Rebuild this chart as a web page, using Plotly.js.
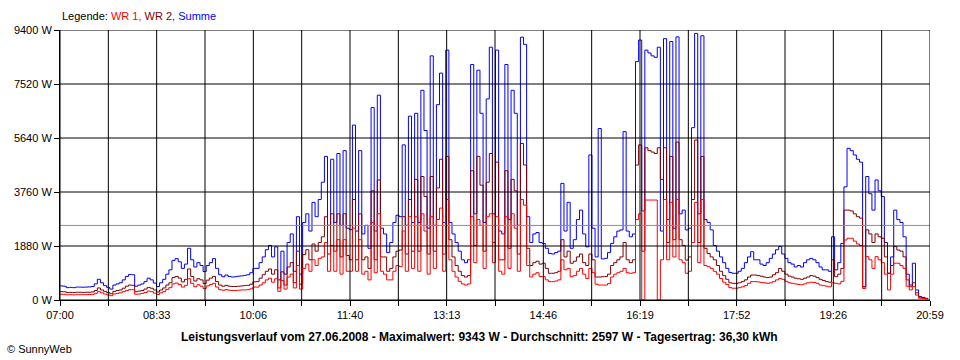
<!DOCTYPE html>
<html>
<head>
<meta charset="utf-8">
<script src="https://cdn.plot.ly/plotly-3.0.1.min.js"></script>
<style>html,body{margin:0;padding:0;background:#fff;}#chart{width:960px;height:360px;}</style>
</head>
<body>
<div id="chart"></div>
<script>
// Sampling: minutes after 07:00, one reading every 3 minutes
const startMinute = 0;
const stepMinutes = 3;
const endMinute = 839; // 20:59

const summe = [
490,480,430,440,430,450,450,445,450,455,
470,560,720,600,500,440,380,520,560,600,
700,820,890,880,480,520,560,640,760,700,
590,470,600,720,900,1050,1380,1440,1330,1100,
1250,1800,1400,1150,1300,1200,990,1200,1300,1440,
1100,880,810,870,820,800,810,830,840,860,
880,950,1100,1100,1300,1500,1750,1900,1500,1850,
700,1700,900,2000,2300,1000,2900,900,2700,3000,
2400,3400,2900,3500,4100,5000,2600,4900,2700,5100,
2600,5200,2500,2450,6090,2400,5200,2300,2600,1800,
6700,2400,7130,2500,2300,1650,2000,2700,2950,2900,
5400,2600,6400,2700,6500,2700,7300,5900,2500,8500,
2600,6800,7900,2700,8700,2700,2300,2000,1700,1400,
1300,1400,8200,3000,8000,6500,2700,7000,8800,3000,
8700,2400,2300,8200,2800,7300,6500,2600,9150,8900,
2900,2000,2300,2350,2000,1970,1800,1620,1600,1650,
1700,4060,2400,3400,1800,2100,2800,3130,2300,1850,
5050,2500,1500,5970,1430,1450,1650,1970,2200,2400,
2440,5860,2400,2200,2300,8300,9050,3100,8700,8600,
8500,8450,8800,2400,9100,2800,9000,2500,9160,3000,
3130,2440,2500,6000,9280,3000,9200,2800,2700,2440,
1900,1700,1500,1300,1100,960,930,930,1000,1100,
1300,1500,1680,1400,1400,1250,1200,1300,1450,1600,
1750,1860,1600,1450,1300,1250,1150,1200,1150,1300,
1400,1450,1400,1300,1150,1050,1050,1000,2200,1050,
1300,1970,3940,5280,5200,5050,4900,4800,460,4300,
3700,3130,4180,3800,3600,2000,930,1500,3130,2800,
2700,2200,900,520,1280,350,120,90,60,50
];

const wr2 = [
290,285,260,265,260,270,270,265,270,270,
280,330,420,350,300,260,220,300,330,350,
410,480,520,510,290,310,330,380,440,410,
350,280,350,420,520,600,780,820,760,630,
720,1080,820,660,740,700,570,690,760,820,
640,520,480,510,480,470,470,480,490,500,
510,550,630,640,760,880,1000,1080,900,1050,
420,980,520,1150,1300,600,1700,550,1580,1750,
1400,1950,1700,2000,2200,2900,1600,3000,1700,3000,
1500,3000,1550,1400,3500,1400,3000,1400,1500,1100,
3800,1400,4180,1500,1500,1000,1100,1500,1700,1740,
2900,1600,3500,1700,4200,1700,4300,3600,1600,4300,
1700,3900,4900,1600,5000,2100,1500,1200,1000,850,
800,850,4500,1900,5000,4000,1700,4100,5100,2000,
4800,1400,1400,4500,1800,4200,3800,1600,5450,4700,
1800,1200,1300,1350,1250,1280,1100,930,930,950,
1000,2100,1500,1700,1280,1350,1500,1600,1300,1200,
1600,1400,800,800,810,820,900,1200,1300,1400,
1500,2000,1400,1300,1400,4700,5400,1700,5300,5200,
5150,5100,5300,4200,5300,2000,5000,2100,5500,2100,
1900,1390,1500,3500,5570,2000,5000,1800,1620,1500,
1400,1200,1000,850,720,600,580,580,600,640,
700,800,870,870,850,830,800,780,800,880,
950,1100,1000,900,830,800,760,740,720,760,
800,850,830,780,720,680,640,620,1400,810,
900,1100,3130,3130,3100,3000,2900,2850,460,2440,
2300,2000,2300,2200,2150,1500,930,1200,1860,1740,
1700,1500,700,460,600,250,100,80,50,40
];

const wr1 = [
200,195,180,185,180,185,185,185,185,190,
195,230,290,250,210,180,150,210,230,250,
290,330,360,360,200,210,230,260,310,290,
240,190,250,290,370,430,560,590,540,450,
510,740,580,460,530,480,400,490,540,580,
450,360,340,360,340,330,330,340,350,350,
360,390,450,450,520,600,700,760,620,740,
300,680,380,800,900,420,1200,380,1100,1250,
1000,1400,1200,1450,1500,2000,1000,1900,1000,2100,
900,2100,1000,1000,2500,1000,2100,900,1000,700,
2700,950,3000,1000,900,700,700,1000,1200,1160,
2400,1000,2900,1100,2900,1000,3000,2400,900,2900,
1100,2800,3200,1000,3500,1400,1000,800,650,560,
520,560,2900,1300,2800,2600,1100,2900,3000,1300,
2900,1000,900,2900,1100,3000,2500,1000,3500,3300,
1200,800,900,950,820,810,700,640,640,660,
700,1400,1050,1100,810,850,1000,1100,900,750,
1100,950,550,520,520,520,570,800,900,950,
1000,1100,950,930,950,2800,3000,0,3480,3480,
3480,3480,0,1400,3500,1400,3400,1500,3500,1400,
1300,930,1000,2000,3400,1300,3500,1200,1160,1100,
1000,900,750,620,540,430,410,410,430,460,
500,580,640,640,630,610,600,580,600,640,
700,750,720,650,600,580,560,540,530,560,
600,620,610,580,520,500,480,460,600,580,
560,650,2090,2150,2150,2050,1950,1900,400,1510,
1400,1100,1510,1400,1300,900,350,900,1280,1280,
1200,1100,480,350,460,170,60,50,40,30
];

const averageW = 2597;

const yTickVals = [0, 1880, 3760, 5640, 7520, 9400];
const yTickText = ["0 W", "1880 W", "3760 W", "5640 W", "7520 W", "9400 W"];
const xTickText = ["07:00","","08:33","","10:06","","11:40","","13:13","","14:46","","16:19","","17:52","","19:26","","20:59"];

const minutes = summe.map((_, i) => startMinute + i * stepMinutes);
const xTickVals = xTickText.map((_, k) => k * endMinute / (xTickText.length - 1));

const lineBase = {type: 'scatter', mode: 'lines', x: minutes, hoverinfo: 'skip', showlegend: false};
const traces = [
  Object.assign({}, lineBase, {name: 'Summe', y: summe, line: {color: '#0000ff', width: 1, shape: 'hv'}}),
  Object.assign({}, lineBase, {name: 'WR 2', y: wr2, line: {color: '#800000', width: 1, shape: 'hv'}}),
  Object.assign({}, lineBase, {name: 'WR 1', y: wr1, line: {color: '#ff0000', width: 1, shape: 'hv'}}),
  {type: 'scatter', mode: 'lines', x: [startMinute, endMinute], y: [averageW, averageW],
   line: {color: '#8c8c8c', width: 1}, hoverinfo: 'skip', showlegend: false, name: 'Durchschnitt'}
];

const shapes = [];
xTickVals.forEach(v => shapes.push({type: 'line', layer: 'above', xref: 'x', yref: 'paper', x0: v, x1: v, y0: 0, y1: 1, line: {color: '#000', width: 1}}));
yTickVals.forEach(v => shapes.push({type: 'line', layer: 'above', xref: 'paper', yref: 'y', x0: 0, x1: 1, y0: v, y1: v, line: {color: '#000', width: 1}}));

const font = {family: 'Liberation Sans, Arial, sans-serif', size: 11, color: '#000'};

const layout = {
  width: 960, height: 360,
  margin: {l: 60, r: 30, t: 30, b: 60},
  paper_bgcolor: '#fff', plot_bgcolor: '#fff',
  font: font,
  showlegend: false,
  xaxis: {
    range: [startMinute, endMinute], tickvals: xTickVals, ticktext: xTickText,
    ticks: 'outside', ticklen: 5, tickcolor: '#000', showgrid: false, zeroline: false,
    showline: true, linecolor: '#000', linewidth: 1, fixedrange: true, tickfont: font
  },
  yaxis: {
    range: [0, 9400], tickvals: yTickVals, ticktext: yTickText,
    ticks: 'outside', ticklen: 5, tickcolor: '#000', showgrid: false, zeroline: false,
    showline: true, linecolor: '#000', linewidth: 1, fixedrange: true, tickfont: font
  },
  shapes: shapes,
  annotations: [
    {xref: 'paper', yref: 'paper', x: 0, y: (300 - 16) / 270, xanchor: 'left', yanchor: 'middle', showarrow: false,
     text: 'Legende: <span style="color:#ff0000">WR 1, </span><span style="color:#800000">WR 2, </span><span style="color:#0000ff">Summe</span>',
     font: font},
    {xref: 'paper', yref: 'paper', x: (479 - 60) / 870, y: (300 - 337) / 270, xanchor: 'center', yanchor: 'middle', showarrow: false,
     text: '<b>Leistungsverlauf vom 27.06.2008 - Maximalwert: 9343 W - Durchschnitt: 2597 W - Tagesertrag: 36,30 kWh</b>',
     font: {family: 'Liberation Sans, Arial, sans-serif', size: 12, color: '#000'}},
    {xref: 'paper', yref: 'paper', x: (5 - 60) / 870, y: (300 - 349) / 270, xanchor: 'left', yanchor: 'middle', showarrow: false,
     text: '© SunnyWeb', font: font}
  ]
};

Plotly.newPlot('chart', traces, layout, {displayModeBar: false, staticPlot: true});
</script>
</body>
</html>
